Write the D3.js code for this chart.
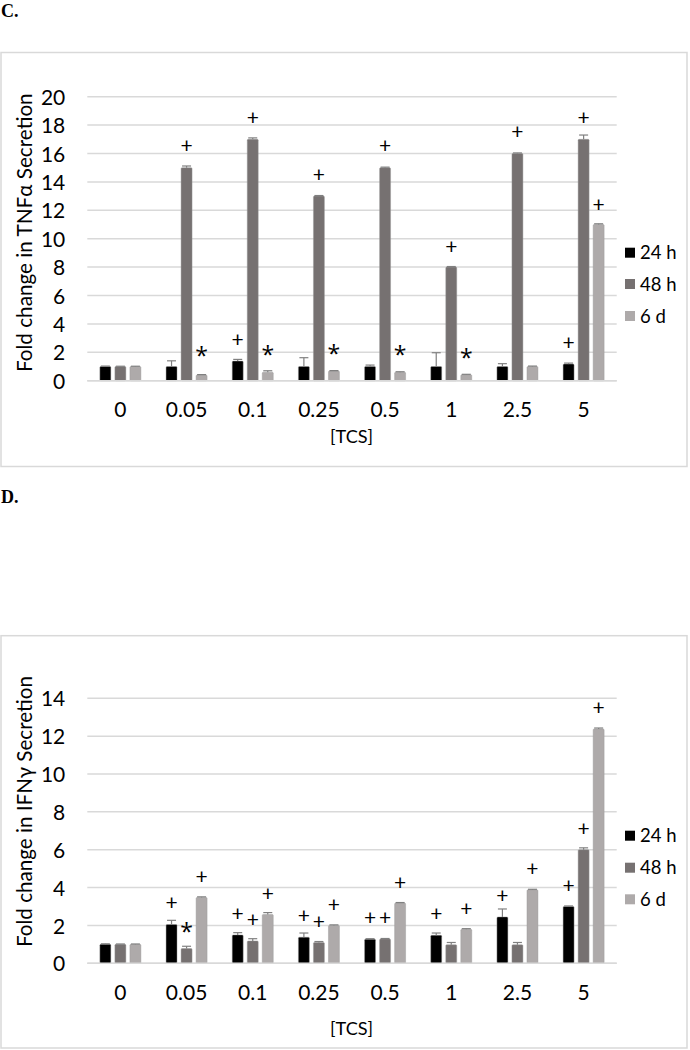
<!DOCTYPE html>
<html>
<head>
<meta charset="utf-8">
<script src="https://cdn.jsdelivr.net/npm/d3@7"></script>
<style>
  html, body { margin: 0; padding: 0; background: #fff; }
  svg { display: block; }
</style>
</head>
<body>
<div id="chart"></div>
<script>
// ---------------- DATA ----------------
const categories = ["0", "0.05", "0.1", "0.25", "0.5", "1", "2.5", "5"];
const seriesNames = ["24 h", "48 h", "6 d"];

// Panel C: TNFα
const tnf24   = [1.0, 1.0, 1.38, 1.0, 1.0, 1.0, 1.0, 1.17];
const tnf24Err= [0.03, 0.4, 0.12, 0.62, 0.1, 0.97, 0.2, 0.07];
const tnf48   = [1.0, 15.0, 17.0, 13.0, 15.0, 8.0, 16.0, 17.0];
const tnf48Err= [0.02, 0.12, 0.1, 0.04, 0.04, 0.04, 0.04, 0.3];
const tnf6d   = [1.0, 0.4, 0.6, 0.68, 0.6, 0.42, 1.0, 11.0];
const tnf6dErr= [0.02, 0.03, 0.1, 0.03, 0.03, 0.03, 0.03, 0.05];
const tnfTicks = [0, 2, 4, 6, 8, 10, 12, 14, 16, 18, 20];
// significance marks: [category, series index, symbol, y (data units, glyph centre)]
const tnfMarks = [
  ["0.05", 1, "+", 16.5], ["0.05", 2, "*", 2.3],
  ["0.1", 0, "+", 2.87], ["0.1", 1, "+", 18.5], ["0.1", 2, "*", 2.4],
  ["0.25", 1, "+", 14.5], ["0.25", 2, "*", 2.5],
  ["0.5", 1, "+", 16.5], ["0.5", 2, "*", 2.4],
  ["1", 1, "+", 9.44], ["1", 2, "*", 2.2],
  ["2.5", 1, "+", 17.5],
  ["5", 0, "+", 2.65], ["5", 1, "+", 18.5], ["5", 2, "+", 12.4]
];

// Panel D: IFNγ
const ifn24   = [1.0, 2.05, 1.5, 1.38, 1.27, 1.48, 2.45, 3.0];
const ifn24Err= [0.03, 0.22, 0.12, 0.22, 0.03, 0.12, 0.42, 0.03];
const ifn48   = [1.0, 0.78, 1.18, 1.1, 1.28, 0.98, 0.98, 6.0];
const ifn48Err= [0.02, 0.12, 0.12, 0.05, 0.03, 0.12, 0.12, 0.1];
const ifn6d   = [1.0, 3.48, 2.58, 2.0, 3.18, 1.8, 3.88, 12.38];
const ifn6dErr= [0.02, 0.03, 0.1, 0.03, 0.03, 0.03, 0.03, 0.05];
const ifnTicks = [0, 2, 4, 6, 8, 10, 12, 14];
const ifnMarks = [
  ["0.05", 0, "+", 3.17], ["0.05", 1, "*", 2.11], ["0.05", 2, "+", 4.57],
  ["0.1", 0, "+", 2.59], ["0.1", 1, "+", 2.29], ["0.1", 2, "+", 3.66],
  ["0.25", 0, "+", 2.52], ["0.25", 1, "+", 2.2], ["0.25", 2, "+", 3.08],
  ["0.5", 0, "+", 2.38], ["0.5", 1, "+", 2.38], ["0.5", 2, "+", 4.26],
  ["1", 0, "+", 2.59], ["1", 2, "+", 2.87],
  ["2.5", 0, "+", 3.57], ["2.5", 2, "+", 4.98],
  ["5", 0, "+", 4.08], ["5", 1, "+", 7.08], ["5", 2, "+", 13.47]
];

// ---------------- STYLE / LAYOUT ----------------
const colors = ["#000000", "#767171", "#aeaaaa"];
const FONT = "Lato, 'Open Sans', sans-serif";
const W = 690, H = 1050;

const svg = d3.select("#chart").append("svg")
  .attr("width", W).attr("height", H);

// fit a text element's font size so that its width matches a target length
function fitText(sel, target, base) {
  sel.attr("font-size", base);
  const len = sel.node().getComputedTextLength();
  if (len > 0) sel.attr("font-size", base * target / len);
}

function drawPanel(cfg) {
  const g = svg.append("g");
  // frame
  g.append("rect")
    .attr("x", cfg.frame[0]).attr("y", cfg.frame[1])
    .attr("width", cfg.frame[2]).attr("height", cfg.frame[3])
    .attr("fill", "none").attr("stroke", "#d9d9d9").attr("stroke-width", 1.5);

  // panel label
  svg.append("text")
    .attr("x", 1).attr("y", cfg.labelY)
    .attr("font-family", "'Liberation Serif', 'Times New Roman', serif")
    .attr("font-weight", "bold").attr("font-size", 18)
    .text(cfg.label);

  const x0 = d3.scaleBand().domain(categories)
    .range([cfg.plot.left, cfg.plot.right])
    .paddingInner(0.38).paddingOuter(0.19);
  const x1 = d3.scaleBand().domain([0, 1, 2])
    .range([0, x0.bandwidth()]).paddingInner(0.27);
  const y = d3.scaleLinear().domain([0, d3.max(cfg.ticks)])
    .range([cfg.plot.bottom, cfg.plot.top]);

  // gridlines
  g.append("g").selectAll("line").data(cfg.ticks).join("line")
    .attr("x1", cfg.plot.left).attr("x2", cfg.plot.right)
    .attr("y1", d => y(d)).attr("y2", d => y(d))
    .attr("stroke", "#d9d9d9").attr("stroke-width", 1.5);

  // y axis labels
  const yAxis = d3.axisLeft(y).tickValues(cfg.ticks).tickSize(0).tickPadding(0);
  const ya = g.append("g").attr("transform", `translate(${cfg.plot.left - 22},0)`).call(yAxis);
  ya.select(".domain").remove();
  ya.selectAll("text").attr("font-family", FONT).attr("font-size", 21)
    .attr("fill", "#000").attr("dy", "0.36em");

  // x axis labels
  const xAxis = d3.axisBottom(x0).tickSize(0).tickPadding(0);
  const xa = g.append("g").attr("transform", `translate(0,${cfg.plot.bottom})`).call(xAxis);
  xa.select(".domain").remove();
  xa.selectAll("text").attr("font-family", FONT).attr("font-size", 21)
    .attr("fill", "#000").attr("dy", null).attr("y", 36.5);

  // bars
  const rows = categories.map((c, i) => ({
    cat: c,
    vals: cfg.series.map((s, k) => ({ k, v: s.v[i], e: s.e[i] }))
  }));
  const grp = g.append("g").selectAll("g").data(rows).join("g")
    .attr("transform", d => `translate(${x0(d.cat)},0)`);
  grp.selectAll("rect").data(d => d.vals).join("rect")
    .attr("x", d => x1(d.k)).attr("width", x1.bandwidth())
    .attr("y", d => y(d.v)).attr("height", d => y(0) - y(d.v))
    .attr("fill", d => colors[d.k])
    .attr("stroke", "#9a9a9a").attr("stroke-opacity", 0.55).attr("stroke-width", 0.8)
    .attr("rx", 1);
  // error bars (upper only)
  const eb = grp.selectAll("g.err").data(d => d.vals).join("g").attr("class", "err");
  eb.append("line")
    .attr("x1", d => x1(d.k) + x1.bandwidth() / 2).attr("x2", d => x1(d.k) + x1.bandwidth() / 2)
    .attr("y1", d => y(d.v)).attr("y2", d => y(d.v + d.e))
    .attr("stroke", "#808080").attr("stroke-width", 1.2);
  eb.append("line")
    .attr("x1", d => x1(d.k) + x1.bandwidth() / 2 - 4.5).attr("x2", d => x1(d.k) + x1.bandwidth() / 2 + 4.5)
    .attr("y1", d => y(d.v + d.e)).attr("y2", d => y(d.v + d.e))
    .attr("stroke", "#808080").attr("stroke-width", 1.2);

  // baseline
  g.append("line")
    .attr("x1", cfg.plot.left).attr("x2", cfg.plot.right)
    .attr("y1", y(0)).attr("y2", y(0))
    .attr("stroke", "#d9d9d9").attr("stroke-width", 1.5);

  // significance marks
  const fs = 21;
  g.append("g").selectAll("text").data(cfg.marks).join("text")
    .attr("x", d => x0(d[0]) + x1(d[1]) + x1.bandwidth() / 2)
    .attr("y", d => y(d[3]) + (d[2] === "*" ? 0.78 * fs : 0.33 * fs))
    .attr("text-anchor", "middle")
    .attr("font-family", d => d[2] === "*" ? "'Open Sans', sans-serif" : FONT)
    .attr("font-size", d => d[2] === "*" ? 23 : fs).attr("fill", "#000")
    .text(d => d[2]);

  // y title
  const yt = g.append("text")
    .attr("transform", `translate(${cfg.yTitle[0]},${cfg.yTitle[1]}) rotate(-90)`)
    .attr("text-anchor", "middle").attr("dy", "0.35em")
    .attr("font-family", FONT).attr("fill", "#000")
    .text(cfg.yTitleText);
  fitText(yt, cfg.yTitleLen, 19);

  // x title
  const xt = g.append("text")
    .attr("x", cfg.xTitle[0]).attr("y", cfg.xTitle[1])
    .attr("text-anchor", "middle").attr("dy", "0.35em")
    .attr("font-family", FONT).attr("fill", "#000")
    .text("[TCS]");
  fitText(xt, 43, 19);

  // legend
  const lg = g.append("g").selectAll("g").data(seriesNames).join("g")
    .attr("transform", (d, i) => `translate(625,${cfg.legendY[i]})`);
  lg.append("rect").attr("x", 0).attr("y", -5).attr("width", 10).attr("height", 10)
    .attr("fill", (d, i) => colors[i]);
  lg.append("text").attr("x", 15).attr("y", 0).attr("dy", "0.36em")
    .attr("font-family", FONT).attr("font-size", 18.5).attr("fill", "#000")
    .text(d => d);
}

drawPanel({
  label: "C.", labelY: 17,
  frame: [1, 52.5, 686, 414],
  plot: { left: 87.3, right: 616.7, top: 96.7, bottom: 380.7 },
  ticks: tnfTicks,
  series: [{ v: tnf24, e: tnf24Err }, { v: tnf48, e: tnf48Err }, { v: tnf6d, e: tnf6dErr }],
  marks: tnfMarks,
  yTitle: [25, 232.7], yTitleLen: 279, yTitleText: "Fold change in TNFα Secretion",
  xTitle: [351.5, 436.7],
  legendY: [252.7, 284, 316]
});

drawPanel({
  label: "D.", labelY: 503,
  frame: [1, 635.7, 686, 412.3],
  plot: { left: 87.3, right: 616.7, top: 698.3, bottom: 963.3 },
  ticks: ifnTicks,
  series: [{ v: ifn24, e: ifn24Err }, { v: ifn48, e: ifn48Err }, { v: ifn6d, e: ifn6dErr }],
  marks: ifnMarks,
  yTitle: [25, 811.5], yTitleLen: 271, yTitleText: "Fold change in IFNγ Secretion",
  xTitle: [351.5, 1028.5],
  legendY: [835.7, 867.7, 899.3]
});
</script>
</body>
</html>
